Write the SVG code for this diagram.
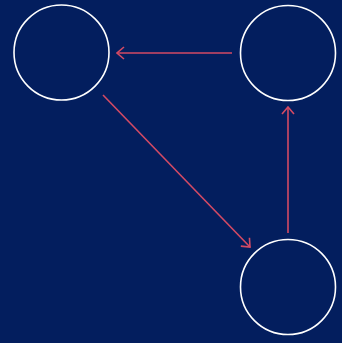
<svg xmlns="http://www.w3.org/2000/svg" width="342" height="343" viewBox="0 0 342 343">
<style>
.node{fill:none;stroke:#ffffff;stroke-width:1.6}
.edge{fill:none;stroke:#d44a64;stroke-width:1.6}
</style>
<defs>
<marker id="arr" viewBox="0 0 10 14" refX="8.5" refY="7" markerWidth="10" markerHeight="14" markerUnits="userSpaceOnUse" orient="auto">
<path d="M1.5,1 L8.5,7 L1.5,13" fill="none" stroke="#d44a64" stroke-width="1.6"/>
</marker>
</defs>
<rect width="342" height="343" fill="#031e5e"/>
<g id="connectors">
<line class="edge" x1="232" y1="53" x2="117" y2="53" marker-end="url(#arr)"/>
<line class="edge" x1="288" y1="233" x2="288" y2="107" marker-end="url(#arr)"/>
<line class="edge" x1="103" y1="95" x2="250" y2="247" marker-end="url(#arr)"/>
</g>
<g id="node-a"><circle class="node" cx="61.5" cy="52.5" r="47.5"/></g>
<g id="node-b"><circle class="node" cx="288" cy="53" r="47.5"/></g>
<g id="node-c"><circle class="node" cx="288" cy="287" r="47.5"/></g>
</svg>
